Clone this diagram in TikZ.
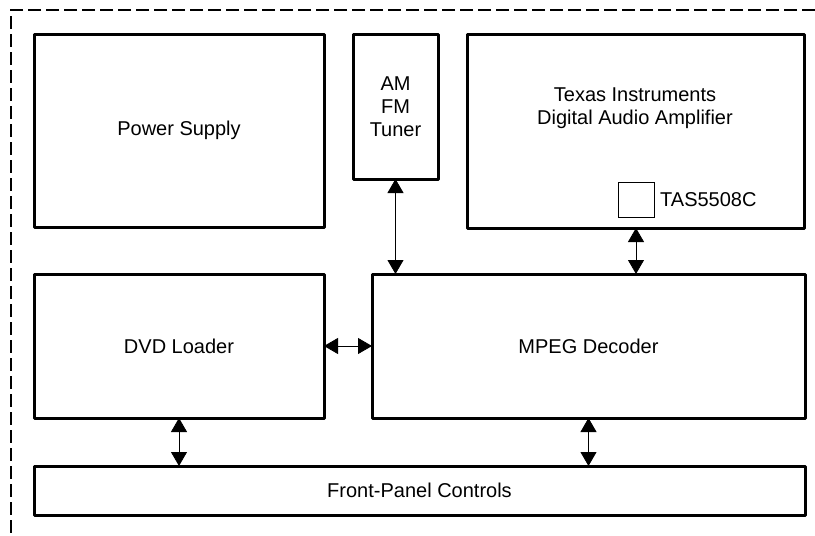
\documentclass[tikz,border=0pt]{standalone}
\usepackage{fontspec}
\setmainfont{Liberation Sans}
\usetikzlibrary{arrows.meta, calc, positioning}

\begin{document}
\begin{tikzpicture}[x=1pt, y=-1pt, line cap=round,
		txt/.style={font=\fontsize{20}{23}\selectfont, align=center},
		block/.style={txt, draw, rectangle, line width=3pt, line join=round, inner sep=0pt, outer sep=0pt, anchor=north west},
		link/.style={line width=0.8pt, {Triangle[length=14pt, width=16pt]}-{Triangle[length=14pt, width=16pt]}}
	]

	\useasboundingbox (0,0) rectangle (815,536);

	\draw[line width=1.6pt, line cap=butt, dash pattern=on 13pt off 5pt] (815,10) -- (11,10) -- (11,536);

	\node[block, minimum width=290pt, minimum height=193pt] (power) at (34,34) {Power Supply};
	\node[block, minimum width=85pt, minimum height=145pt] (tuner) at (353,34) {AM\\FM\\Tuner};
	\node[block, minimum width=337pt, minimum height=194pt] (amp) at (467,34) {};
	\node[txt] (amptext) at (635,108) {Texas Instruments\\Digital Audio Amplifier};
	\node[draw, line width=0.9pt, minimum width=36pt, minimum height=35pt, inner sep=0pt, outer sep=0pt, anchor=north west] (chip) at (618,182) {};
	\node[txt, inner sep=0pt, right=6pt of chip] (chipname) {TAS5508C};

	\node[block, minimum width=290pt, minimum height=144pt] (dvd) at (34,274) {DVD Loader};
	\node[block, minimum width=433pt, minimum height=144pt] (mpeg) at (372,274) {MPEG Decoder};
	\node[block, minimum width=771pt, minimum height=49pt] (panel) at (34,466) {Front-Panel Controls};

	\draw[link] (tuner.south) -- (tuner.south |- mpeg.north);
	\draw[link] (chip |- amp.south) -- (chip |- mpeg.north);
	\draw[link] (dvd.east) -- (mpeg.west);
	\draw[link] (dvd.south) -- (dvd.south |- panel.north);
	\draw[link] (mpeg.south) -- (mpeg.south |- panel.north);

\end{tikzpicture}
\end{document}
